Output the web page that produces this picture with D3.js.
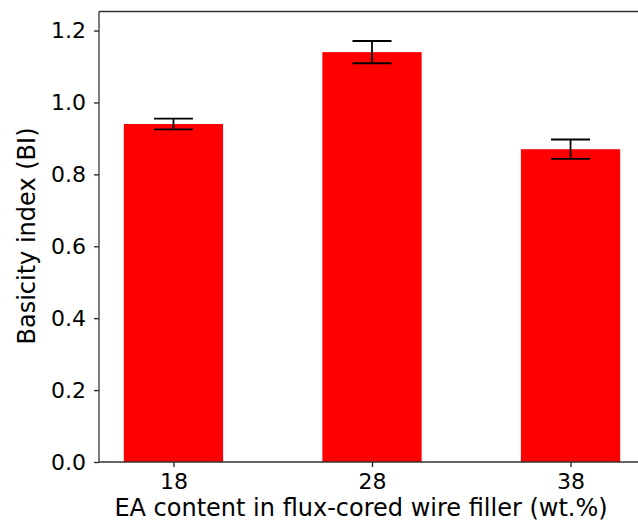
<!DOCTYPE html>
<html>
<head>
<meta charset="utf-8">
<script src="https://cdn.jsdelivr.net/npm/d3@7"></script>
<style>
  body { margin: 0; background: #fff; overflow: hidden; }
  svg { display: block; font-family: "DejaVu Sans", sans-serif; }
  .tick text { font-size: 22px; fill: #000; }
</style>
</head>
<body>
<div id="chart"></div>
<script>
var categories = [18, 28, 38],
    values = [0.94, 1.14, 0.87],
    errors = [0.015, 0.031, 0.027],
    yTicks = [0, 0.2, 0.4, 0.6, 0.8, 1.0, 1.2];

var margin = {top: 11.5, right: -7, bottom: 60, left: 99},
    W = 638, H = 522,
    width = W - margin.left - margin.right,
    height = H - margin.top - margin.bottom;

var svg = d3.select('#chart')
  .append('svg')
    .attr('width', W)
    .attr('height', H);

var g = svg.append('g')
  .attr('transform', 'translate(' + margin.left + ',' + margin.top + ')');

// matplotlib style: bar width 5, 5% margins
var x = d3.scaleLinear()
  .domain([14.25, 41.75])
  .range([0, width]);

var y = d3.scaleLinear()
  .domain([0, 1.253])
  .range([height, 0]);

var barW = x(23) - x(18);

g.selectAll('rect.bar')
    .data(values)
  .enter().append('rect')
    .attr('class', 'bar')
    .attr('x', function(d, i) { return x(categories[i]) - barW / 2; })
    .attr('y', function(d) { return y(d); })
    .attr('width', barW)
    .attr('height', function(d) { return height - y(d); })
    .attr('fill', '#ff0000');

// error bars
var capW = 19.5;
var eb = g.selectAll('g.err')
    .data(values)
  .enter().append('g')
    .attr('class', 'err')
    .attr('stroke', '#000')
    .attr('stroke-width', 1.8);

eb.append('line')
  .attr('x1', function(d, i) { return x(categories[i]); })
  .attr('x2', function(d, i) { return x(categories[i]); })
  .attr('y1', function(d, i) { return y(d + errors[i]); })
  .attr('y2', function(d, i) { return y(d - errors[i]); });

[1, -1].forEach(function(s) {
  eb.append('line')
    .attr('x1', function(d, i) { return x(categories[i]) - capW; })
    .attr('x2', function(d, i) { return x(categories[i]) + capW; })
    .attr('y1', function(d, i) { return y(d + s * errors[i]); })
    .attr('y2', function(d, i) { return y(d + s * errors[i]); });
});

var xAxis = d3.axisBottom(x)
  .tickValues(categories)
  .tickFormat(d3.format('d'))
  .tickSizeOuter(0)
  .tickSize(5)
  .tickPadding(6);

var yAxis = d3.axisLeft(y)
  .tickValues(yTicks)
  .tickFormat(d3.format('.1f'))
  .tickSizeOuter(0)
  .tickSize(5)
  .tickPadding(8);

var gx = g.append('g')
  .attr('transform', 'translate(0,' + height + ')')
  .call(xAxis);
var gy = g.append('g').call(yAxis);

[gx, gy].forEach(function(a) {
  a.select('.domain').remove();
  a.selectAll('.tick line').attr('stroke', '#222').attr('stroke-width', 1.3);
  a.selectAll('text').attr('font-family', '"DejaVu Sans", sans-serif');
});

// spines (right one falls outside the picture)
var spines = [
  [0, 0, width, 0],
  [0, height, width, height],
  [0, 0, 0, height]
];
g.selectAll('line.spine')
    .data(spines)
  .enter().append('line')
    .attr('class', 'spine')
    .attr('x1', function(d) { return d[0]; })
    .attr('y1', function(d) { return d[1]; })
    .attr('x2', function(d) { return d[2]; })
    .attr('y2', function(d) { return d[3]; })
    .attr('stroke', '#333')
    .attr('stroke-width', 1.3);

svg.append('text')
  .attr('x', 361)
  .attr('y', 516)
  .attr('text-anchor', 'middle')
  .attr('font-size', 24)
  .text('EA content in flux-cored wire filler (wt.%)');

svg.append('text')
  .attr('transform', 'translate(35,236) rotate(-90)')
  .attr('text-anchor', 'middle')
  .attr('font-size', 24)
  .text('Basicity index (BI)');
</script>
</body>
</html>
